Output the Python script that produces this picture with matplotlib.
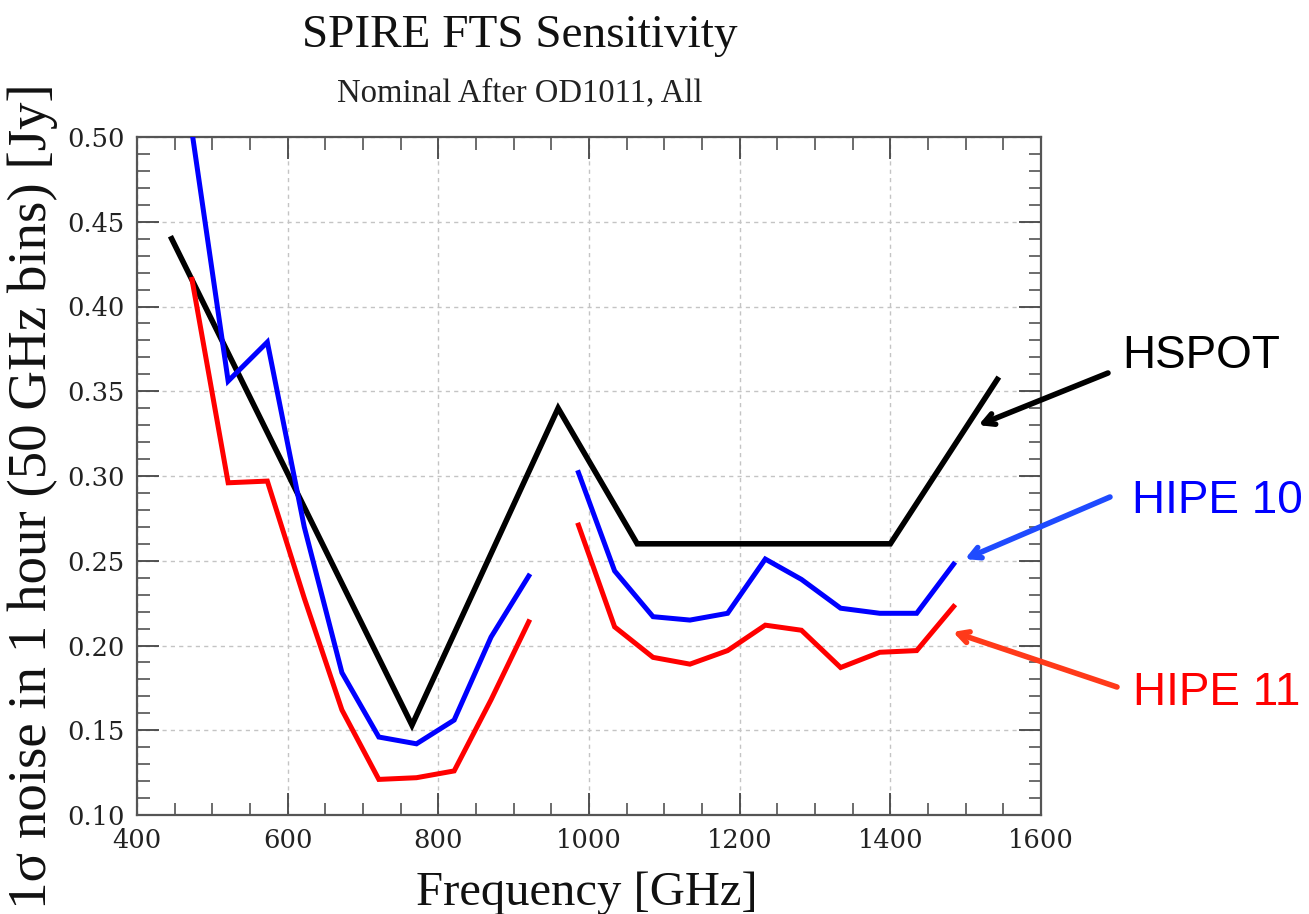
import matplotlib
matplotlib.use("Agg")
import matplotlib.pyplot as plt
from matplotlib.ticker import MultipleLocator, FormatStrFormatter

# ---- data ----
hspot_freq = [446, 765, 959, 1064, 1400, 1542]
hspot_noise = [0.440, 0.153, 0.340, 0.260, 0.260, 0.357]

band1_freq = [473, 521, 573, 622, 672, 721, 771, 821, 870, 920]
band2_freq = [986, 1034, 1085, 1134, 1184, 1234, 1282, 1334, 1386, 1435, 1484]

hipe10_band1 = [0.503, 0.356, 0.379, 0.270, 0.184, 0.146, 0.142, 0.156, 0.205, 0.241]
hipe10_band2 = [0.302, 0.244, 0.217, 0.215, 0.219, 0.251, 0.239, 0.222, 0.219, 0.219, 0.248]
hipe11_band1 = [0.416, 0.296, 0.297, 0.228, 0.162, 0.121, 0.122, 0.126, 0.168, 0.214]
hipe11_band2 = [0.271, 0.211, 0.193, 0.189, 0.197, 0.212, 0.209, 0.187, 0.196, 0.197, 0.223]

title = "SPIRE FTS Sensitivity"
subtitle = "Nominal After OD1011, All"
xlabel = "Frequency [GHz]"
ylabel = "1σ noise in 1 hour (50 GHz bins) [Jy]"
labels = ["HSPOT", "HIPE 10", "HIPE 11"]

W, H = 1309, 914
fig = plt.figure(figsize=(W / 100, H / 100), dpi=100)
fig.patch.set_facecolor("white")

ax = fig.add_axes([137 / W, 1 - 815 / H, (1041 - 137) / W, (815 - 137) / H])
ax.set_xlim(400, 1600)
ax.set_ylim(0.10, 0.50)

ax.plot(hspot_freq, hspot_noise, color="black", lw=4.0, solid_joinstyle="miter", zorder=3)
ax.plot(band1_freq, hipe10_band1, color="#0000ff", lw=3.6, solid_joinstyle="miter", zorder=3)
ax.plot(band2_freq, hipe10_band2, color="#0000ff", lw=3.6, solid_joinstyle="miter", zorder=3)
ax.plot(band1_freq, hipe11_band1, color="#ff0000", lw=3.6, solid_joinstyle="miter", zorder=3)
ax.plot(band2_freq, hipe11_band2, color="#ff0000", lw=3.6, solid_joinstyle="miter", zorder=3)

ax.xaxis.set_major_locator(MultipleLocator(200))
ax.xaxis.set_minor_locator(MultipleLocator(50))
ax.yaxis.set_major_locator(MultipleLocator(0.05))
ax.yaxis.set_minor_locator(MultipleLocator(0.01))
ax.yaxis.set_major_formatter(FormatStrFormatter("%.2f"))

ax.grid(True, which="major", color="#c4c4c4", lw=1.0, linestyle=(0, (3, 3)))
ax.set_axisbelow(True)

for s in ax.spines.values():
    s.set_color("#555555")
    s.set_linewidth(1.6)

ax.tick_params(which="both", direction="in", top=True, right=True, color="#444444")
ax.tick_params(which="major", length=16, width=1.3, pad=9, labelsize=18.5, labelcolor="#222222")
ax.tick_params(which="minor", length=9, width=1.1)
for lab in ax.get_xticklabels() + ax.get_yticklabels():
    lab.set_family("DejaVu Serif")

serif = ["Liberation Serif", "DejaVu Serif"]
fig.text(520 / W, 1 - 47 / H, title, ha="center", va="baseline", fontsize=34,
         family=serif, color="#111111")
fig.text(520 / W, 1 - 101 / H, subtitle, ha="center", va="baseline", fontsize=23.5,
         family=serif, color="#222222")
fig.text(587 / W, 1 - 905 / H, xlabel, ha="center", va="baseline", fontsize=35,
         family=serif, color="#111111")
fig.text(33 / W, 1 - 496 / H, ylabel, ha="center", va="center", rotation=90,
         fontsize=39.5, family=serif, color="#111111")

# annotations
sans = ["Liberation Sans", "DejaVu Sans"]
ann = [
    (labels[0], (1517, 0.330), (1108, 373), (1122, 368), "black", "black"),
    (labels[1], (1499, 0.251), (1110, 497), (1132, 513), "#1f4bff", "#0000ff"),
    (labels[2], (1483, 0.208), (1117, 687), (1133, 705), "#ff3a1a", "#ff0000"),
]
for text, tip, tail, tpos, acol, tcol in ann:
    ax.annotate("", xy=tip, xycoords="data",
                xytext=(tail[0] / W, 1 - tail[1] / H), textcoords="figure fraction",
                arrowprops=dict(arrowstyle="->,head_length=0.75,head_width=0.4",
                                color=acol, lw=4.0, shrinkA=0, shrinkB=0,
                                capstyle="round", joinstyle="round"),
                annotation_clip=False)
    fig.text(tpos[0] / W, 1 - tpos[1] / H, text, ha="left", va="baseline",
             fontsize=33, family=sans, color=tcol)

fig.savefig("out.png", dpi=100, facecolor="white")
